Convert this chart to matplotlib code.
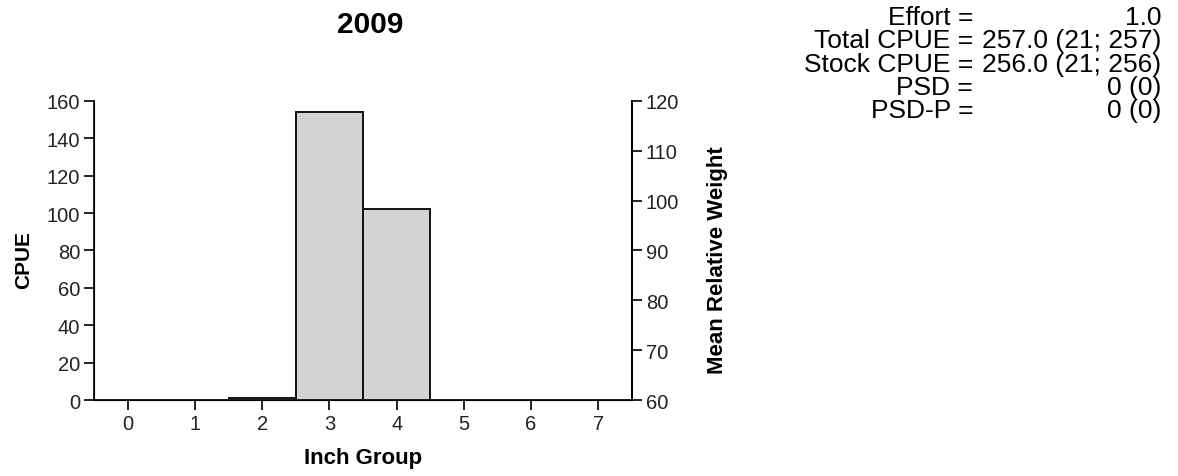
import matplotlib
matplotlib.use('Agg')
import matplotlib.pyplot as plt

# CPUE by inch group
inch_groups = [0, 1, 2, 3, 4, 5, 6, 7]
cpue = [0, 0, 1, 154, 102, 0, 0, 0]

year = '2009'
stat_names = ['Effort =', 'Total CPUE =', 'Stock CPUE =', 'PSD =', 'PSD-P =']
stat_values = ['1.0', '257.0 (21; 257)', '256.0 (21; 256)', '0 (0)', '0 (0)']

wr_ticks = [60, 70, 80, 90, 100, 110, 120]

plt.rcParams['font.family'] = ['Liberation Sans', 'DejaVu Sans']

fig = plt.figure(figsize=(11.78, 4.77), dpi=100)
ax = fig.add_axes([0.0798, 0.1593, 0.4567, 0.6269])

ax.bar(inch_groups, cpue, width=1.0, color='#d3d3d3',
       edgecolor='#111111', linewidth=1.4)
ax.set_xlim(-0.5, 7.5)
ax.set_ylim(0, 160)
ax.set_xticks(inch_groups)
ax.set_yticks(range(0, 161, 20))
ax.spines['top'].set_visible(False)
for side in ['left', 'bottom', 'right']:
    ax.spines[side].set_linewidth(1.4)
    ax.spines[side].set_color('#222222')
ax.tick_params(direction='out', length=7, width=1.4, labelsize=14.5,
               colors='#222222', pad=3)
ax.set_xlabel('Inch Group', fontsize=16, fontweight='bold', labelpad=10)
ax.set_ylabel('CPUE', fontsize=15, fontweight='bold', labelpad=10)
ax.yaxis.label.set_y(0.472)
ax.set_title(year, fontsize=21.5, fontweight='bold', x=0.513, pad=50)

ax2 = ax.twinx()
ax2.set_ylim(60, 120)
ax2.set_yticks(wr_ticks)
ax2.spines['top'].set_visible(False)
ax2.spines['right'].set_linewidth(1.4)
ax2.tick_params(direction='out', length=7, width=1.4, labelsize=14.5,
                colors='#222222', pad=3)
ax2.set_ylabel('Mean Relative Weight', fontsize=16, fontweight='bold',
               labelpad=20)
ax2.yaxis.label.set_y(0.472)

# summary statistics block
baselines = [25, 48, 72, 95, 118]
for name, value, b in zip(stat_names, stat_values, baselines):
    y = 1 - b / 477.0
    fig.text(0.826, y, name, ha='right', va='baseline', fontsize=19)
    fig.text(0.986, y, value, ha='right', va='baseline', fontsize=19)

fig.savefig('out.png', dpi=100)
